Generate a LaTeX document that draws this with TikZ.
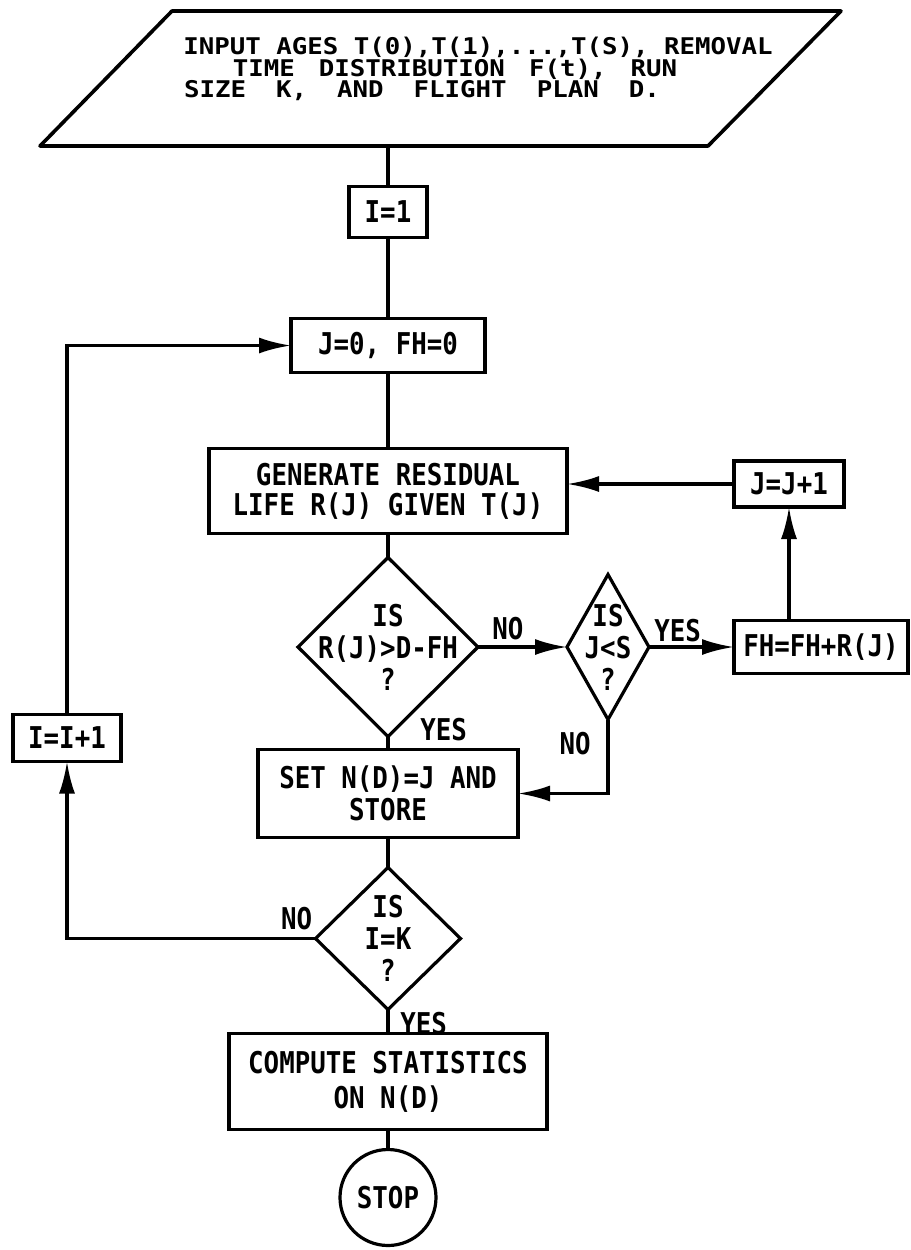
\documentclass[tikz,border=0pt]{standalone}
\usepackage{fontspec}
\usepackage{tikz}
\usetikzlibrary{arrows.meta,positioning,shapes.geometric,calc}
\newfontfamily\flowfont{DejaVu Sans Mono}[FakeStretch=0.86]
\newfontfamily\inputfont{DejaVu Sans Mono}[FakeStretch=1.12]
\newcommand{\boxfont}{\flowfont\bfseries\fontsize{15pt}{16pt}\selectfont}
\newcommand{\topfont}{\inputfont\bfseries\fontsize{11.5pt}{10.75pt}\selectfont}
\newcommand{\zw}[1]{\makebox[0pt]{#1}}
\tikzset{
  procbox/.style={
    draw,
    line width=1.8pt,
    inner sep=0pt,
    outer sep=0pt,
    align=center,
    font=\boxfont
  },
  decbox/.style={procbox, diamond, line width=1.6pt, shape aspect=0.5},
  termbox/.style={procbox, circle, line width=1.6pt},
  iotext/.style={inner sep=0pt, outer sep=0pt, align=center, font=\topfont},
  ioedge/.style={line width=1.8pt, line join=round},
  lbl/.style={inner sep=0pt, font=\boxfont},
  conn/.style={line width=1.6pt},
  flow/.style={conn, -{Latex[length=16pt,width=8pt]}}
}
\begin{document}
\begin{tikzpicture}[x=0.5pt, y=-0.5pt]
\useasboundingbox (0,0) rectangle (911,1250);
% input parallelogram
\node[iotext] (inp) at (440.5,69)
  {\zw{\hspace*{37.5pt}INPUT AGES T(0),T(1),...,T(S), REMOVAL}\\
   \zw{\hspace*{14.5pt}TIME\hspace{12pt}DISTRIBUTION\hspace{12pt}F(t),\hspace{12pt}RUN}\\
   \zw{\hspace*{-18.5pt}SIZE\hspace{15pt}K,\hspace{15pt}AND\hspace{15pt}FLIGHT\hspace{15pt}PLAN\hspace{15pt}D.}};
\draw[ioedge] ($(inp.center)+(-400.5,77)$) -- ($(inp.center)+(267.5,77)$)
  -- ($(inp.center)+(400.5,-58)$) -- ($(inp.center)+(-268.5,-58)$) -- cycle;
\coordinate (inpbase) at ($(inp.center)+(0,77)$);

% main column
\node[procbox, minimum width=39pt, minimum height=25.5pt] (i1) at (388,212) {I=1};
\node[procbox, below=40.5pt of i1, minimum width=97pt, minimum height=27pt] (j0) {J=0, FH=0};
\node[procbox, below=38pt of j0, minimum width=179pt, minimum height=42.5pt] (gen)
  {GENERATE RESIDUAL\\[-1pt]LIFE R(J) GIVEN T(J)};
\node[decbox, below=12pt of gen, minimum width=90pt, minimum height=89.5pt] (d1)
  {\zw{IS}\\\zw{R(J)>D-FH}\\\zw{?}};
\node[procbox, below=6.5pt of d1, minimum width=130pt, minimum height=44pt] (set)
  {SET N(D)=J AND\\STORE};
\node[decbox, below=15pt of set, minimum width=72.5pt, minimum height=71pt] (d3)
  {\zw{IS}\\\zw{I=K}\\\zw{?}};
\node[procbox, below=12pt of d3, minimum width=159pt, minimum height=48pt] (comp)
  {COMPUTE STATISTICS\\[1.5pt]ON N(D)};
\node[termbox, below=10pt of comp, minimum size=48pt] (stop) {STOP};

% inner loop
\node[decbox, right=44.5pt of d1, minimum width=41pt, minimum height=72.5pt] (d2)
  {\zw{IS}\\\zw{J<S}\\\zw{?}};
\node[procbox, right=42.5pt of d2, minimum width=87pt, minimum height=26.5pt] (fh) {FH=FH+R(J)};
\node[procbox, minimum width=55pt, minimum height=23pt] (jj) at (789,484) {J=J+1};

% outer loop
\node[procbox, minimum width=54pt, minimum height=23.5pt] (ii) at (67,738) {I=I+1};

% branch labels
\node[lbl, above right=3.5pt and 7pt of d1.east] (no1) {NO};
\node[lbl, above right=2.5pt and 2.5pt of d2.east] (yes2) {YES};
\node[lbl, anchor=south west, xshift=16pt, yshift=-2.5pt] (yes1) at (d1.south) {YES};
\node[lbl, anchor=north east, xshift=-8.5pt, yshift=-6pt] (no2) at (d2.south) {NO};
\node[lbl, anchor=south east, xshift=-1.5pt, yshift=4pt] (no3) at (d3.west) {NO};
\node[lbl, anchor=north west, xshift=6pt, yshift=-1pt] (yes3) at (d3.south) {YES};

\draw[conn] (i1.north |- inpbase) -- (i1);
\draw[conn] (i1) -- (j0);
\draw[conn] (j0) -- (gen);
\draw[conn] (gen) -- (d1);
\draw[conn] (d1) -- (set);
\draw[conn] (set) -- (d3);
\draw[conn] (d3) -- (comp);
\draw[conn] (comp) -- (stop);
\draw[flow] (d1) -- (d2);
\draw[flow] (d2) -- (fh);
\draw[flow] (fh.north -| jj.south) -- (jj.south);
\draw[flow] (jj.west) -- (jj.west -| gen.east);
\draw[flow] (d2.south) |- (set.east);
\draw[flow] (d3.west) -| (ii.south);
\draw[flow] (ii.north) |- (j0.west);
\end{tikzpicture}
\end{document}
